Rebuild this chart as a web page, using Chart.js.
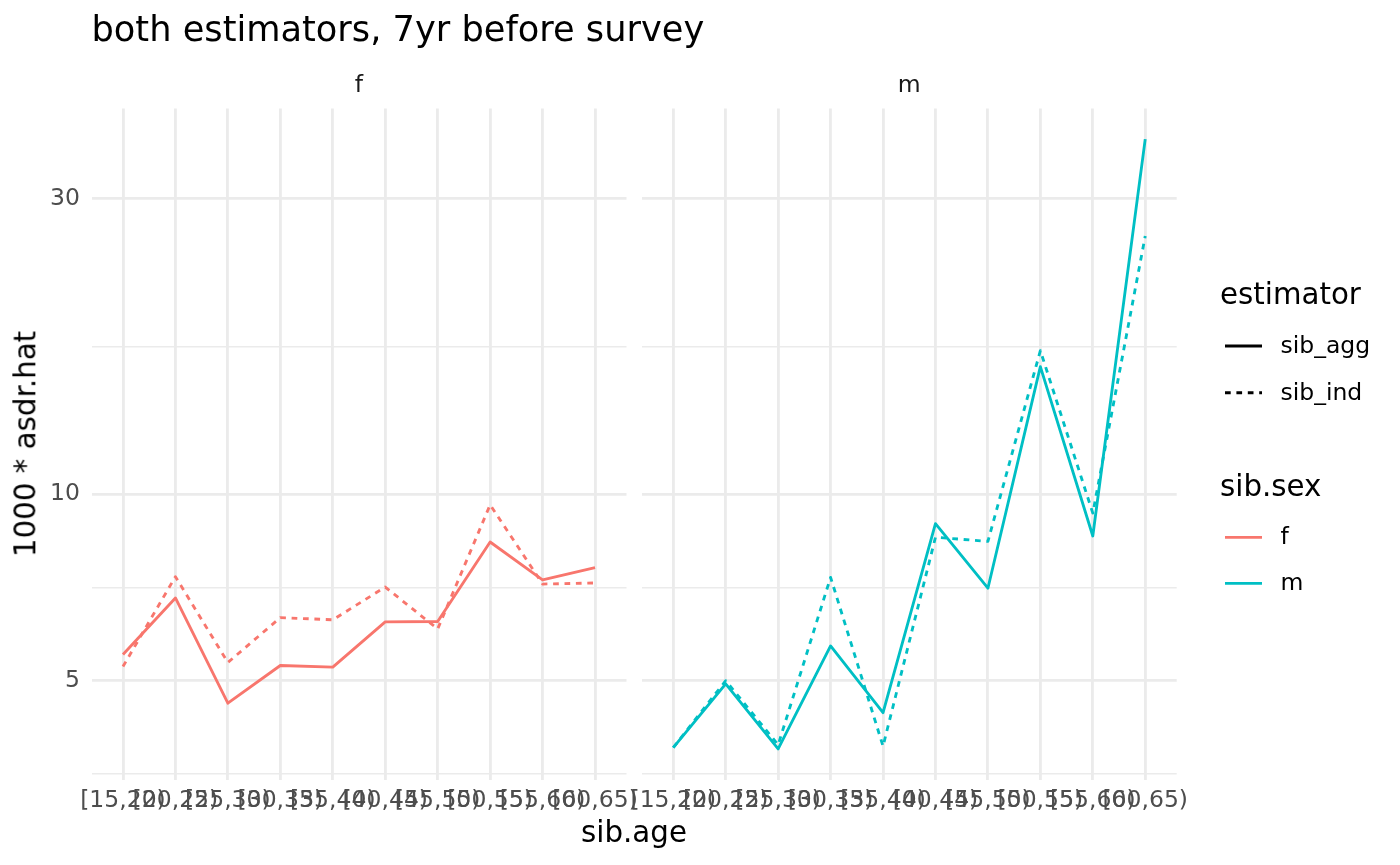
<!DOCTYPE html>
<html>
<head>
<meta charset="utf-8">
<title>both estimators, 7yr before survey</title>
<script src="https://cdn.jsdelivr.net/npm/chart.js@4.4.1/dist/chart.umd.min.js"></script>
<style>
  html, body { margin: 0; padding: 0; background: #fff; }
  #wrap { position: relative; width: 1400px; height: 865px; overflow: hidden; font-family: 'DejaVu Sans', sans-serif; }
  canvas { position: absolute; left: 0; top: 0; }
  .txt { position: absolute; white-space: nowrap; line-height: 1; color: #000; }
  .mid { transform: translateX(-50%); }
</style>
</head>
<body>
<div id="wrap">
  <canvas id="panelF" width="1400" height="865"></canvas>
  <canvas id="panelM" width="1400" height="865"></canvas>

  <div class="txt" style="left:91.5px; top:11.2px; font-size:35.2px;">both estimators, 7yr before survey</div>
  <div class="txt mid" style="left:359px; top:73px; font-size:23.5px; color:#1A1A1A;">f</div>
  <div class="txt mid" style="left:909.2px; top:73px; font-size:23.5px; color:#1A1A1A;">m</div>
  <div class="txt mid" style="left:634px; top:818.2px; font-size:29.3px;">sib.age</div>
  <div class="txt" style="left:26px; top:444px; font-size:29.3px; transform: translate(-50%,-50%) rotate(-90deg);">1000 * asdr.hat</div>

  <!-- legend -->
  <div class="txt" style="left:1220px; top:280.2px; font-size:29.3px;">estimator</div>
  <div class="txt" style="left:1280.5px; top:334.1px; font-size:23.5px;">sib_agg</div>
  <div class="txt" style="left:1280.5px; top:380.8px; font-size:23.5px;">sib_ind</div>
  <div class="txt" style="left:1220px; top:471.9px; font-size:29.3px;">sib.sex</div>
  <div class="txt" style="left:1280.5px; top:525.4px; font-size:23.5px;">f</div>
  <div class="txt" style="left:1280.5px; top:571.4px; font-size:23.5px;">m</div>
  <svg style="position:absolute; left:0; top:0;" width="1400" height="865">
    <line x1="1225" y1="346" x2="1262" y2="346" stroke="#000" stroke-width="2.85"/>
    <line x1="1225" y1="392.7" x2="1262" y2="392.7" stroke="#000" stroke-width="2.85" stroke-dasharray="5.7 5.7"/>
    <line x1="1225" y1="537.3" x2="1262" y2="537.3" stroke="#F8766D" stroke-width="2.85"/>
    <line x1="1225" y1="583.3" x2="1262" y2="583.3" stroke="#00BFC4" stroke-width="2.85"/>
  </svg>
</div>

<script>
// age groups on the x axis
const ageGroups = ['[15,20)', '[20,25)', '[25,30)', '[30,35)', '[35,40)',
                   '[40,45)', '[45,50)', '[50,55)', '[55,60)', '[60,65)'];

// 1000 * asdr.hat
const fAgg = [5.51, 6.80, 4.60, 5.29, 5.26, 6.22, 6.23, 8.37, 7.27, 7.61];
const fInd = [5.27, 7.36, 5.35, 6.32, 6.27, 7.08, 6.06, 9.61, 7.16, 7.19];
const mAgg = [3.90, 4.94, 3.88, 5.69, 4.44, 8.96, 7.05, 16.06, 8.56, 37.4];
const mInd = [3.90, 5.00, 3.94, 7.34, 3.92, 8.52, 8.39, 17.04, 9.32, 26.09];

// y axis (log scale)
const yMajor = [5, 10, 30];
const yMinor = [3.54, 7.07, 17.3];
const yMin = 3.46;
const yMax = 41.9;

const colF = '#F8766D';
const colM = '#00BFC4';
const gridCol = '#EBEBEB';

Chart.defaults.font.family = "'DejaVu Sans', sans-serif";

function toXY(vals) {
    return vals.map(function (v, i) { return { x: i, y: v }; });
}

function makePanel(id, agg, ind, colour, showY, areaLeft, areaRight) {
    var common = {
        borderColor: colour,
        borderWidth: 2.85,
        pointRadius: 0,
        pointHoverRadius: 0,
        tension: 0,
        fill: false,
        borderJoinStyle: 'round',
        borderCapStyle: 'butt'
    };
    return new Chart(document.getElementById(id), {
        type: 'line',
        data: {
            datasets: [
                Object.assign({ label: 'sib_ind', data: toXY(ind), borderDash: [5.7, 5.7] }, common),
                Object.assign({ label: 'sib_agg', data: toXY(agg) }, common)
            ]
        },
        options: {
            responsive: false,
            animation: false,
            devicePixelRatio: 1,
            layout: { padding: { left: 0, right: 1400 - areaRight, top: 108.5, bottom: 25.2 } },
            plugins: { legend: { display: false }, tooltip: { enabled: false } },
            scales: {
                x: {
                    type: 'linear',
                    min: -0.6,
                    max: 9.6,
                    afterBuildTicks: function (s) {
                        s.ticks = ageGroups.map(function (g, i) { return { value: i }; });
                    },
                    afterFit: function (s) { s.height = 60; },
                    ticks: {
                        autoSkip: false,
                        maxRotation: 0,
                        minRotation: 0,
                        padding: 7,
                        color: '#4D4D4D',
                        font: { size: 23.5 },
                        callback: function (v, i) { return ageGroups[i]; }
                    },
                    grid: { color: gridCol, lineWidth: 2.85, drawTicks: false },
                    border: { display: false }
                },
                y: {
                    type: 'logarithmic',
                    min: yMin,
                    max: yMax,
                    afterBuildTicks: function (s) {
                        s.ticks = yMinor.concat(yMajor).sort(function (a, b) { return a - b; })
                            .map(function (v) { return { value: v }; });
                    },
                    afterFit: function (s) { s.width = areaLeft; },
                    ticks: {
                        display: showY,
                        padding: 11.5,
                        color: '#4D4D4D',
                        font: { size: 23.5 },
                        callback: function (v) { return yMajor.indexOf(v) >= 0 ? String(v) : ''; }
                    },
                    grid: {
                        color: gridCol,
                        drawTicks: false,
                        lineWidth: function (ctx) {
                            return ctx.tick && yMajor.indexOf(ctx.tick.value) >= 0 ? 2.85 : 1.42;
                        }
                    },
                    border: { display: false }
                }
            }
        }
    });
}

makePanel('panelF', fAgg, fInd, colF, true, 91.5, 626.5);
makePanel('panelM', mAgg, mInd, colM, false, 641.8, 1176.7);
</script>
</body>
</html>
